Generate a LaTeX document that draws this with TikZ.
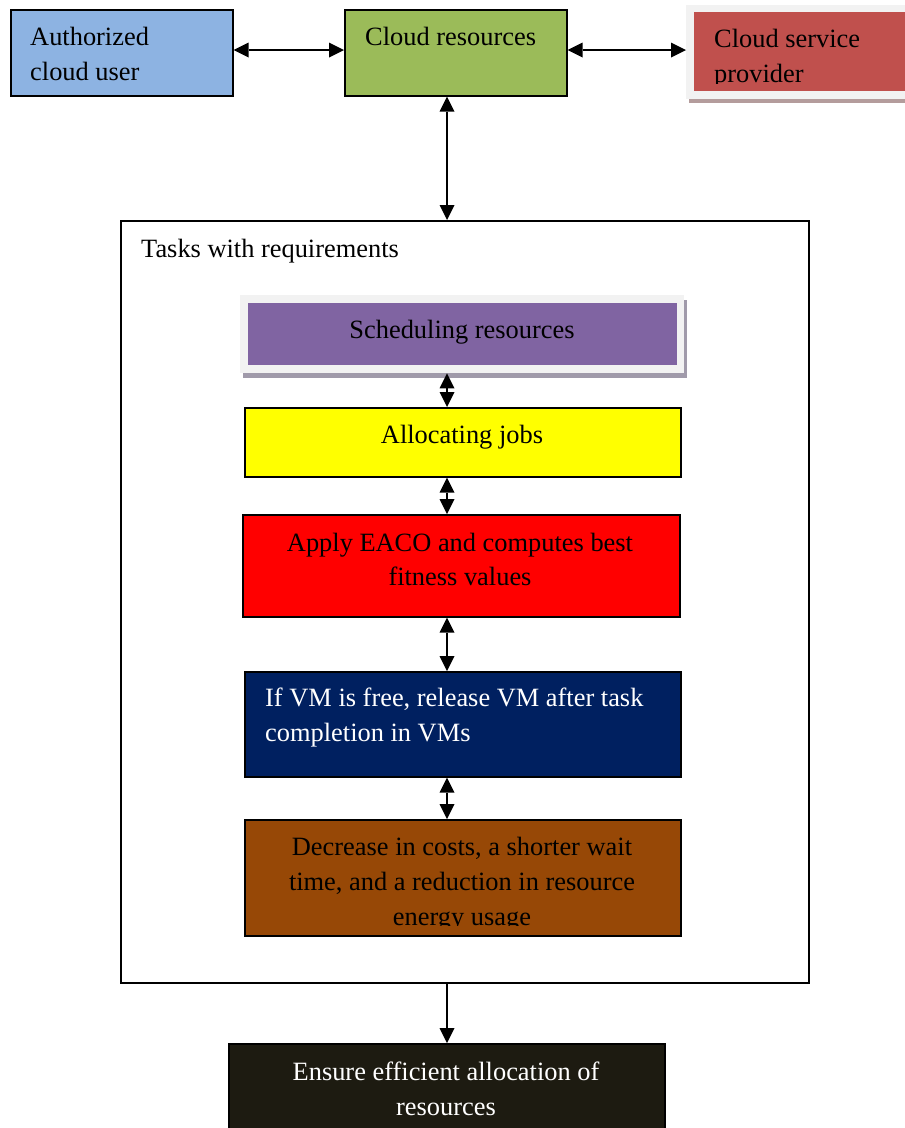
\documentclass[tikz,border=0pt]{standalone}
\usepackage{fontspec}
\setmainfont{Liberation Serif}
\usetikzlibrary{arrows.meta}
\definecolor{cuser}{HTML}{8DB3E2}
\definecolor{cres}{HTML}{9BBB59}
\definecolor{cprov}{HTML}{C0504D}
\definecolor{csched}{HTML}{8064A2}
\definecolor{calloc}{HTML}{FFFF00}
\definecolor{ceaco}{HTML}{FF0000}
\definecolor{cvm}{HTML}{002060}
\definecolor{cdec}{HTML}{974806}
\definecolor{cens}{HTML}{1D1B11}
\definecolor{cframe}{HTML}{F2F2F2}
\definecolor{cshprov}{HTML}{B49C9C}
\definecolor{cshsched}{HTML}{A09AAA}
\tikzset{
  boxnode/.style={draw=black, line width=1.6pt, anchor=north west, inner sep=0pt},
  plain/.style={anchor=north west, inner sep=0pt},
  txt/.style={inner sep=0pt, font=\fontsize{26.4}{35}\selectfont},
  tip/.tip={Triangle[length=15pt,width=15pt,line width=0pt]},
  arr/.style={line width=2pt, tip-tip},
  arrone/.style={line width=2pt, -tip},
}
\begin{document}
\begin{tikzpicture}[x=1pt,y=-1pt]
\useasboundingbox (0,0) rectangle (905,1128);
\coordinate (ax) at (447,0);
% top row
\node[boxnode, fill=cuser, minimum width=222pt, minimum height=86pt] (user) at (10,9) {};
\node[txt, anchor=base west] (u1) at (30,45) {Authorized};
\node[txt, anchor=base west] (u2) at (30,80) {cloud user};
\node[boxnode, fill=cres, minimum width=222pt, minimum height=86pt] (res) at (344,9) {};
\node[txt, anchor=base west] (r1) at (365,45) {Cloud resources};
% provider with shadow frame
\fill[cshprov] (689,98) rectangle (905,103);
\node[plain, fill=cframe, minimum width=230pt, minimum height=94pt] (provframe) at (686,5) {};
\node[plain, fill=cprov, minimum width=215pt, minimum height=79pt] (prov) at (694,12) {};
\begin{scope}
\clip (694,12) rectangle (905,83);
\node[txt, anchor=base west] (p1) at (714,47) {Cloud service};
\node[txt, anchor=base west] (p2) at (714,82) {provider};
\end{scope}
\draw[arr] (user.east |- 0,50) -- (res.west |- 0,50);
\draw[arr] (res.east |- 0,50) -- (provframe.west |- 0,50);
% tasks container
\node[draw=black, line width=1.5pt, anchor=north west, inner sep=0pt, minimum width=688pt, minimum height=762pt] (tasks) at (120,220) {};
\node[txt, anchor=base west] (t1) at (141,257) {Tasks with requirements};
\draw[arr] (res.south -| ax) -- (tasks.north -| ax);
% scheduling with shadow frame
\fill[cshsched] (243,372) rectangle (687,378);
\fill[cshsched] (683,300) rectangle (687,378);
\node[plain, fill=cframe, minimum width=444pt, minimum height=78pt] (schedframe) at (240,295) {};
\node[plain, fill=csched, minimum width=429pt, minimum height=62pt] (sched) at (248,303) {};
\node[txt, anchor=base] (s1) at (462,338) {Scheduling resources};
% allocating
\node[boxnode, fill=calloc, minimum width=436pt, minimum height=69pt] (alloc) at (244,407) {};
\node[txt, anchor=base] (a1) at (462,443) {Allocating jobs};
\draw[arr] (schedframe.south -| ax) -- (alloc.north -| ax);
% EACO
\node[boxnode, fill=ceaco, minimum width=437pt, minimum height=102pt] (eaco) at (242,514) {};
\node[txt, anchor=base] (e1) at (460,551) {Apply EACO and computes best};
\node[txt, anchor=base] (e2) at (460,585) {fitness values};
\draw[arr] (alloc.south -| ax) -- (eaco.north -| ax);
% VM
\node[boxnode, fill=cvm, minimum width=436pt, minimum height=105pt] (vm) at (244,671) {};
\node[txt, anchor=base west, text=white] (v1) at (265,706) {If VM is free, release VM after task};
\node[txt, anchor=base west, text=white] (v2) at (265,741) {completion in VMs};
\draw[arr] (eaco.south -| ax) -- (vm.north -| ax);
% decrease
\node[boxnode, fill=cdec, minimum width=436pt, minimum height=116pt] (dec) at (244,819) {};
\begin{scope}
\clip (246,821) rectangle (678,925);
\node[txt, anchor=base] (d1) at (462,855) {Decrease in costs, a shorter wait};
\node[txt, anchor=base] (d2) at (462,890) {time, and a reduction in resource};
\node[txt, anchor=base] (d3) at (462,925) {energy usage};
\end{scope}
\draw[arr] (vm.south -| ax) -- (dec.north -| ax);
% ensure
\node[boxnode, fill=cens, minimum width=436pt, minimum height=100pt] (ens) at (228,1043) {};
\node[txt, anchor=base, text=white] (n1) at (446,1080) {Ensure efficient allocation of};
\node[txt, anchor=base, text=white] (n2) at (446,1115) {resources};
\draw[arrone] (tasks.south -| ax) -- (ens.north -| ax);
\end{tikzpicture}
\end{document}
